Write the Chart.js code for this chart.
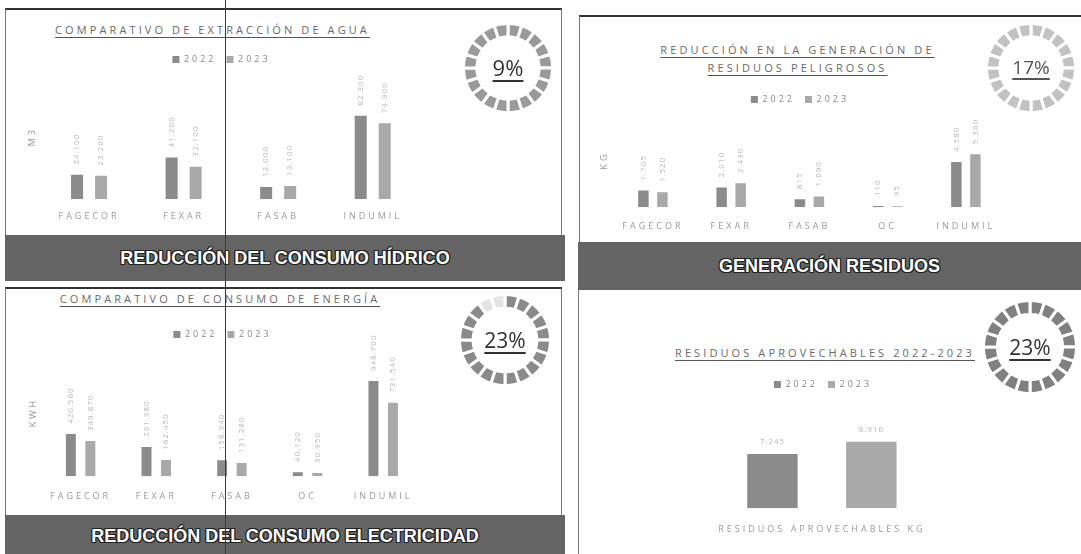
<!DOCTYPE html>
<html>
<head>
<meta charset="utf-8">
<script src="https://cdn.jsdelivr.net/npm/chart.js@4.4.1/dist/chart.umd.min.js"></script>
<style>
  html,body{margin:0;padding:0;background:#fff;}
  #root{position:relative;width:1081px;height:554px;overflow:hidden;background:#fff;font-family:"Open Sans",sans-serif;}
  .abs{position:absolute;}
  .title{position:absolute;text-align:center;color:#6a6a6a;font-size:11px;letter-spacing:3.1px;white-space:nowrap;line-height:18px;}
  .title span{text-decoration:underline;text-decoration-color:#555;text-underline-offset:3px;}
  .banner{position:absolute;background:#646464;color:#fff;font-family:"Liberation Sans",Arial,sans-serif;font-weight:bold;font-size:18px;text-align:center;
    text-shadow:1px 1px 0 #222,-1px -1px 0 #222,1px -1px 0 #222,-1px 1px 0 #222,0 1px 0 #222,0 -1px 0 #222,1px 0 0 #222,-1px 0 0 #222;}
  .pct{position:absolute;text-align:center;color:#333;font-family:"Open Sans",sans-serif;}
  .pct span{text-decoration:underline;text-underline-offset:4px;text-decoration-thickness:1.5px;}
  canvas{position:absolute;}
</style>
</head>
<body>
<div id="root">
  <!-- panel frames -->
  <div class="abs" style="left:5px;top:8px;width:557px;height:227px;border-top:2px solid #333;border-left:1px solid #777;border-right:1px solid #777;box-sizing:border-box;"></div>
  <div class="abs" style="left:579px;top:15px;width:510px;height:228px;border-top:2px solid #333;border-left:1px solid #777;box-sizing:border-box;"></div>
  <div class="abs" style="left:5px;top:287px;width:557px;height:228px;border-top:2px solid #333;border-left:1px solid #777;border-right:1px solid #777;box-sizing:border-box;"></div>
  <div class="abs" style="left:578px;top:290px;width:510px;height:270px;border-left:1px solid #777;box-sizing:border-box;"></div>

  <!-- titles -->
  <div class="title" style="left:20px;top:21px;width:385px;"><span>COMPARATIVO DE EXTRACCIÓN DE AGUA</span></div>
  <div class="title" style="left:600px;top:41px;width:395px;"><span>REDUCCIÓN EN LA GENERACIÓN DE</span><br><span>RESIDUOS PELIGROSOS</span></div>
  <div class="title" style="left:20px;top:290px;width:400px;"><span>COMPARATIVO DE CONSUMO DE ENERGÍA</span></div>
  <div class="title" style="left:620px;top:344px;width:410px;"><span>RESIDUOS APROVECHABLES 2022-2023</span></div>

  <!-- charts -->
  <canvas id="c1" width="415" height="195" style="left:15px;top:40px;"></canvas>
  <canvas id="c2" width="420" height="166" style="left:590px;top:80px;"></canvas>
  <canvas id="c3" width="415" height="202" style="left:15px;top:315px;"></canvas>
  <canvas id="c4" width="290" height="186" style="left:670px;top:365px;"></canvas>

  <!-- rings -->
  <canvas id="r1" width="92" height="92" style="left:462px;top:22px;"></canvas>
  <canvas id="r2" width="92" height="92" style="left:985px;top:22px;"></canvas>
  <canvas id="r3" width="94" height="94" style="left:458px;top:293px;"></canvas>
  <canvas id="r4" width="96" height="96" style="left:982px;top:299px;"></canvas>
  <div class="pct" style="left:468px;top:52px;width:80px;font-size:22px;line-height:30px;"><span>9%</span></div>
  <div class="pct" style="left:991px;top:54px;width:80px;font-size:19px;line-height:26px;color:#555;"><span>17%</span></div>
  <div class="pct" style="left:465px;top:325px;width:80px;font-size:21px;line-height:30px;"><span>23%</span></div>
  <div class="pct" style="left:990px;top:332px;width:80px;font-size:21px;line-height:30px;"><span>23%</span></div>

  <!-- banners -->
  <div class="banner" style="left:5px;top:235px;width:560px;height:46px;line-height:46px;">REDUCCIÓN DEL CONSUMO HÍDRICO</div>
  <div class="banner" style="left:578px;top:242px;width:503px;height:48px;line-height:48px;">GENERACIÓN RESIDUOS</div>
  <div class="banner" style="left:5px;top:515px;width:560px;height:39px;line-height:42px;">REDUCCIÓN DEL CONSUMO ELECTRICIDAD</div>

  <!-- scan crease -->
  <div class="abs" style="left:225px;top:0;width:1px;height:554px;background:#3a3a3a;"></div>
</div>

<script>
// ---------- data ----------
const years = ["2022", "2023"];

const aguaCategories = ["FAGECOR", "FEXAR", "FASAB", "INDUMIL"];
const agua2022 = [24100, 41200, 12000, 82300];
const agua2023 = [23200, 32100, 13100, 74900];

const residuosCategories = ["FAGECOR", "FEXAR", "FASAB", "OC", "INDUMIL"];
const residuos2022 = [1705, 2010, 815, 110, 4580];
const residuos2023 = [1520, 2430, 1090, 95, 5360];

const energiaCategories = ["FAGECOR", "FEXAR", "FASAB", "OC", "INDUMIL"];
const energia2022 = [420560, 291380, 158940, 40120, 948700];
const energia2023 = [349870, 162450, 131280, 30950, 731540];

const aprovechablesCategories = ["RESIDUOS APROVECHABLES KG"];
const aprovechables2022 = [7245];
const aprovechables2023 = [8910];

const ringSegments = [5,5,5,5,5,5,5,5,5,5,5,5,5,5,5,5,5,5,5,5];
const percentLabels = ["9%", "17%", "23%", "23%"];

// ---------- styling ----------
const color2022 = "#8b8b8b";
const color2023 = "#a9a9a9";
Chart.defaults.font.family = '"Open Sans", sans-serif';
Chart.defaults.color = "#999";

function fmt(v){ return String(v).replace(/\B(?=(\d{3})+(?!\d))/g, "."); }

const spacingPlugin = {
  id: "spacing",
  beforeUpdate(chart, a, o){ chart.ctx.letterSpacing = (o.px || 0) + "px"; },
  beforeDraw(chart, a, o){ chart.ctx.letterSpacing = (o.px || 0) + "px"; }
};

const valueLabels = {
  id: "valueLabels",
  afterDatasetsDraw(chart, a, o){
    if (!o.enabled) return;
    const ctx = chart.ctx;
    chart.data.datasets.forEach((ds, i) => {
      const meta = chart.getDatasetMeta(i);
      meta.data.forEach((bar, j) => {
        ctx.save();
        ctx.letterSpacing = "1px";
        ctx.font = (o.size || 8) + 'px "Open Sans", sans-serif';
        ctx.fillStyle = o.color || "#b5b5b5";
        const txt = fmt(ds.data[j]);
        if (o.rotate) {
          ctx.translate(bar.x, bar.y - (o.gap || 8));
          ctx.rotate(-Math.PI / 2);
          ctx.textAlign = "left";
          ctx.textBaseline = "middle";
          ctx.fillText(txt, 0, 0);
        } else {
          ctx.textAlign = "center";
          ctx.textBaseline = "bottom";
          ctx.fillText(txt, bar.x, bar.y - (o.gap || 8));
        }
        ctx.restore();
      });
    });
  }
};

function barChart(id, labels, d1, d2, cfg){
  return new Chart(document.getElementById(id), {
    type: "bar",
    data: {
      labels: labels,
      datasets: [
        { label: years[0], data: d1, backgroundColor: color2022, categoryPercentage: cfg.cat, barPercentage: cfg.bar },
        { label: years[1], data: d2, backgroundColor: color2023, categoryPercentage: cfg.cat, barPercentage: cfg.bar }
      ]
    },
    options: {
      responsive: false,
      animation: false,
      layout: { padding: cfg.pad },
      plugins: {
        tooltip: { enabled: false },
        legend: {
          position: "top",
          labels: { boxWidth: 7, boxHeight: 7, font: { size: 9 }, color: "#888", padding: 10 }
        },
        spacing: { px: 3 },
        valueLabels: { enabled: true, rotate: cfg.rotate, gap: cfg.gap, size: 8 }
      },
      scales: {
        x: {
          grid: { display: false, drawTicks: false },
          border: { display: false },
          ticks: { font: { size: 9 }, color: "#9a9a9a", padding: cfg.tickPad, maxRotation: 0, autoSkip: false }
        },
        y: {
          display: cfg.yTitle ? true : false,
          min: 0, max: cfg.max,
          grid: { display: false, drawTicks: false },
          border: { display: false },
          ticks: { display: false },
          title: { display: !!cfg.yTitle, text: cfg.yTitle || "", font: { size: 9 }, color: "#999" }
        }
      }
    },
    plugins: [spacingPlugin, valueLabels]
  });
}

barChart("c1", aguaCategories, agua2022, agua2023,
  { cat: 0.508, bar: 0.5, pad: { top: 5, left: 8, right: 10, bottom: 1 }, max: 123500, tickPad: 12, yTitle: "M3", rotate: true, gap: 10 });
barChart("c2", residuosCategories, residuos2022, residuos2023,
  { cat: 0.486, bar: 0.55, pad: { top: 5, left: 5, right: 5, bottom: 0 }, max: 9456, tickPad: 14, yTitle: "KG", rotate: true, gap: 10 });
barChart("c3", energiaCategories, energia2022, energia2023,
  { cat: 0.516, bar: 0.51, pad: { top: 5, left: 9, right: 9, bottom: 0 }, max: 1268000, tickPad: 15, yTitle: "KWH", rotate: true, gap: 10 });
barChart("c4", aprovechablesCategories, aprovechables2022, aprovechables2023,
  { cat: 1.0, bar: 0.51, pad: { top: 5, left: 53, right: 37, bottom: 0 }, max: 14626, tickPad: 16, yTitle: null, rotate: false, gap: 8 });

const ringColors = [
  "#9a9a9a",
  "#c2c2c2",
  ["#8a8a8a","#8a8a8a","#8a8a8a","#8a8a8a","#8a8a8a","#8a8a8a","#8a8a8a","#8a8a8a","#8a8a8a","#8a8a8a",
   "#8a8a8a","#8a8a8a","#8a8a8a","#8a8a8a","#8a8a8a","#8a8a8a","#8a8a8a","#8a8a8a","#e4e4e4","#e4e4e4"],
  "#808080"
];
["r1", "r2", "r3", "r4"].forEach((id, i) => {
  new Chart(document.getElementById(id), {
    type: "doughnut",
    data: { labels: ringSegments.map((_, k) => "s" + k),
            datasets: [{ data: ringSegments, backgroundColor: ringColors[i], borderColor: "#fff", borderWidth: 3 }] },
    options: {
      responsive: false, animation: false, cutout: "70%",
      plugins: { legend: { display: false }, tooltip: { enabled: false } }
    }
  });
});
</script>
</body>
</html>
